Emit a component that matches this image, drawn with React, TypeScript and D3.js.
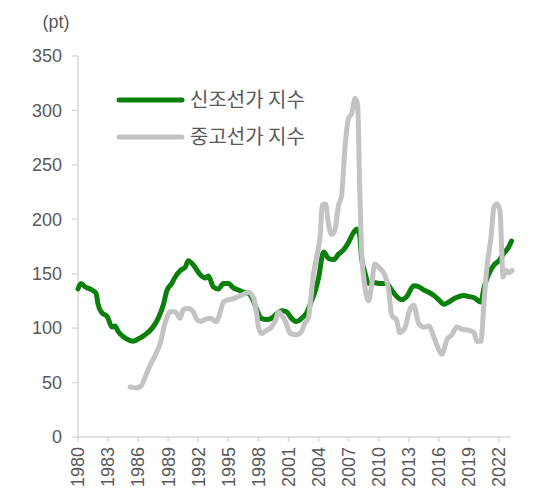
import React from "react";
import * as d3 from "d3";

const newYears = [1980.0,1980.3,1980.7,1981.4,1981.8,1982.0,1982.4,1982.9,1983.4,1983.7,1984.0,1984.7,1985.5,1986.0,1986.7,1987.4,1988.0,1988.5,1988.85,1989.35,1989.7,1990.2,1990.7,1991.0,1991.5,1992.2,1992.7,1993.0,1993.5,1994.0,1994.5,1995.0,1995.5,1996.0,1996.5,1997.0,1997.5,1997.8,1998.3,1998.8,1999.3,1999.8,2000.3,2000.8,2001.3,2001.8,2002.3,2002.8,2003.3,2003.7,2004.0,2004.5,2005.0,2005.5,2006.0,2006.5,2007.0,2007.5,2007.8,2008.1,2008.3,2008.6,2009.0,2009.5,2010.1,2010.8,2011.3,2011.8,2012.3,2012.8,2013.5,2014.0,2014.5,2015.0,2015.5,2016.0,2016.5,2017.0,2017.5,2018.0,2018.5,2019.0,2019.5,2020.2,2020.5,2021.0,2021.5,2022.0,2022.5,2023.0,2023.25];
const newValues = [136,141,138,135,132,122,114,111,101,102,97,91,88,90,94,100,109,121,134,141,147,153,156,162,158,149,146,148,138,136,141,141,137,135,133,132,125,118,109,108,109,113,116,115,109,106,109,114,125,135,146,170,164,163,168,172,179,188,191,185,164,152,141,142,141,141,135,129,126,129,139,138,135,133,130,126,122,124,127,129,130,129,128,124,137,150,158,162,169,175,180];

const usedYears = [1985.2,1985.85,1986.3,1986.7,1987.2,1987.7,1988.2,1988.7,1989.2,1989.7,1990.2,1990.5,1991.0,1991.5,1991.85,1992.2,1992.7,1993.2,1993.8,1994.2,1994.5,1995.0,1995.5,1996.0,1996.5,1997.0,1997.5,1997.8,1998.0,1998.3,1998.8,1999.3,1999.7,2000.0,2000.3,2000.7,2001.2,2001.8,2002.3,2002.6,2003.0,2003.2,2003.5,2003.8,2004.2,2004.35,2004.7,2005.0,2005.3,2005.6,2006.0,2006.3,2006.6,2007.0,2007.3,2007.65,2007.9,2008.1,2008.3,2008.6,2009.0,2009.3,2009.6,2010.1,2010.6,2011.0,2011.3,2011.8,2012.1,2012.6,2013.1,2013.5,2014.0,2014.5,2015.0,2015.5,2016.0,2016.3,2016.8,2017.3,2017.8,2018.3,2019.0,2019.5,2019.8,2020.2,2020.5,2020.8,2021.2,2021.5,2021.8,2022.1,2022.3,2022.4,2022.7,2023.0,2023.3];
const usedValues = [46,45,47,55,66,75,86,105,115,115,109,117,118,115,108,106,108,109,106,115,124,126,127,129,131,133,128,115,101,95,98,101,107,115,112,106,95,94,97,104,110,125,150,165,189,213,214,195,186,189,213,222,262,293,297,311,305,231,170,140,125,140,159,155,149,135,112,107,96,100,117,121,104,101,102,92,80,76,89,94,101,99,98,96,88,88,123,156,183,211,214,208,166,147,153,151,153];

const xTicks = [1980,1983,1986,1989,1992,1995,1998,2001,2004,2007,2010,2013,2016,2019,2022];
const yTicks = [0,50,100,150,200,250,300,350];
const seriesNames = ["신조선가 지수", "중고선가 지수"];
const unitLabel = "(pt)";

const W = 543, H = 497;
const GREEN = "#0a800a";
const GRAY = "#c3c3c3";
const AXIS = "#d9d9d9";
const TEXT = "#595959";
const FONT = "'Liberation Sans', Arial, sans-serif";

export default function App() {
  const x = d3.scaleLinear().domain([1980, 2023.2]).range([78, 511]);
  const y = d3.scaleLinear().domain([0, 350]).range([437, 56]);
  const line = d3
    .line<[number, number]>()
    .x((d) => x(d[0]))
    .y((d) => y(d[1]))
    .curve(d3.curveMonotoneX);
  const newPts = newYears.map((t, i) => [t, newValues[i]] as [number, number]);
  const usedPts = usedYears.map((t, i) => [t, usedValues[i]] as [number, number]);

  return (
    <svg width={W} height={H} style={{ position: "absolute", left: 0, top: 0, background: "#fff" }}>
      <text x={56} y={28} textAnchor="middle" fontFamily={FONT} fontSize={18} fill={TEXT}>{unitLabel}</text>
      {/* y axis */}
      <line x1={x(1980)} x2={x(1980)} y1={y(350)} y2={y(0)} stroke={AXIS} strokeWidth={1.5} />
      {yTicks.map((t) => (
        <g key={t}>
          <line x1={72} x2={78} y1={y(t)} y2={y(t)} stroke={AXIS} strokeWidth={1.5} />
          <text x={62} y={y(t)} dy="0.35em" textAnchor="end" fontFamily={FONT} fontSize={18} fill={TEXT}>{t}</text>
        </g>
      ))}
      {/* x axis */}
      <line x1={x(1980)} x2={x(2023.2)} y1={y(0)} y2={y(0)} stroke={AXIS} strokeWidth={1.5} />
      {xTicks.map((t) => (
        <g key={t}>
          <line x1={x(t)} x2={x(t)} y1={y(0)} y2={y(0) + 5} stroke={AXIS} strokeWidth={1.5} />
          <text transform={`translate(${x(t)},${y(0) + 10}) rotate(-90)`} dy="0.35em" textAnchor="end" fontFamily={FONT} fontSize={18} fill={TEXT}>{t}</text>
        </g>
      ))}
      <path d={line(newPts) || ""} fill="none" stroke={GREEN} strokeWidth={5} strokeLinejoin="round" strokeLinecap="round" />
      <path d={line(usedPts) || ""} fill="none" stroke={GRAY} strokeWidth={5} strokeLinejoin="round" strokeLinecap="round" />
      {/* legend */}
      <line x1={119} x2={182} y1={100} y2={100} stroke={GREEN} strokeWidth={5} strokeLinecap="round" />
      <line x1={119} x2={182} y1={137} y2={137} stroke={GRAY} strokeWidth={5} strokeLinecap="round" />
      <text x={190} y={100} dy="0.36em" fontFamily="'Noto Sans CJK KR', sans-serif" fontSize={20} fill={TEXT}>{seriesNames[0]}</text>
      <text x={190} y={137} dy="0.36em" fontFamily="'Noto Sans CJK KR', sans-serif" fontSize={20} fill={TEXT}>{seriesNames[1]}</text>
    </svg>
  );
}
